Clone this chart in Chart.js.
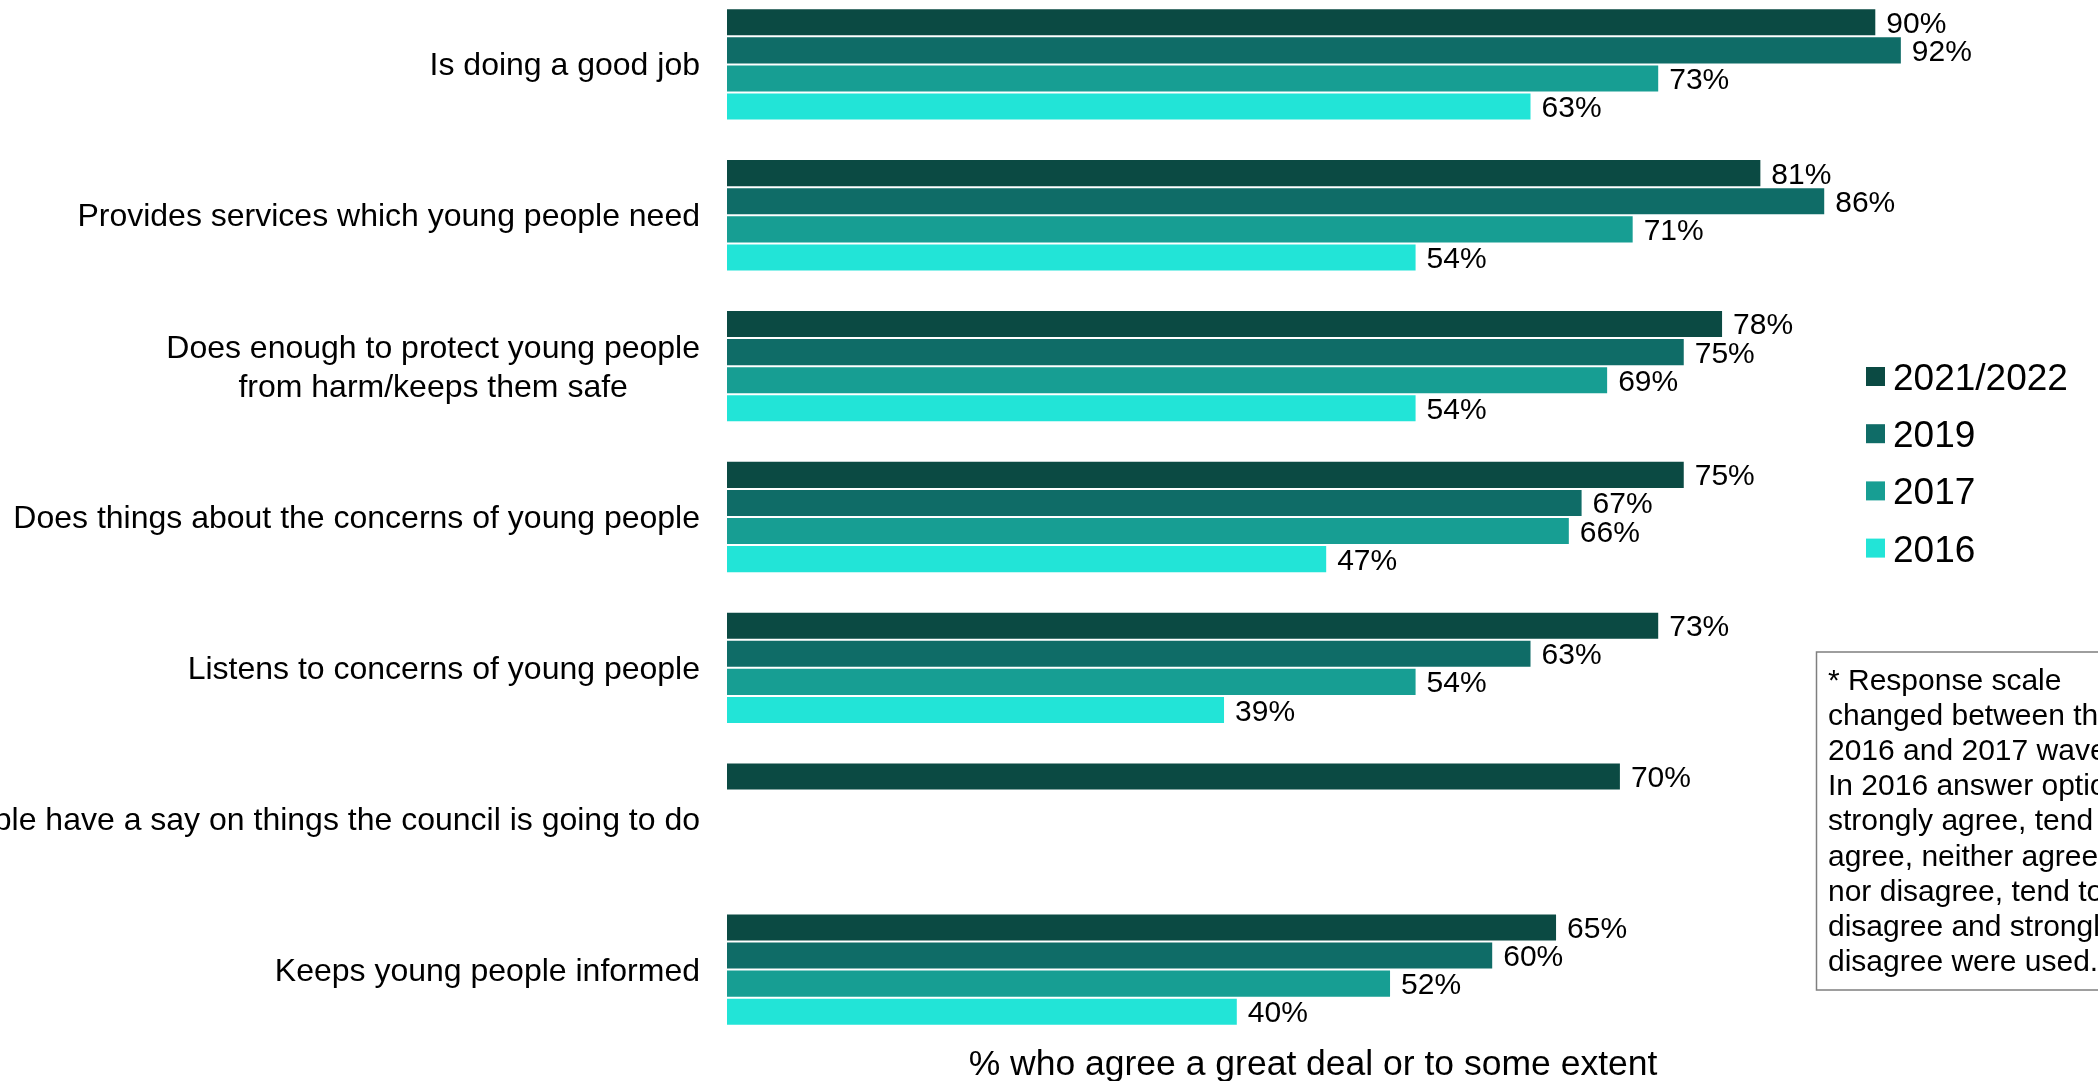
<!DOCTYPE html>
<html>
<head>
<meta charset="utf-8">
<script src="https://cdn.jsdelivr.net/npm/chart.js@4/dist/chart.umd.min.js"></script>
<style>
  html, body { margin: 0; padding: 0; background: #fff; overflow: hidden; }
  #wrap { position: relative; width: 2098px; height: 1081px; overflow: hidden; }
  #chart { position: absolute; left: 0; top: -11px; }
</style>
</head>
<body>
<div id="wrap"><canvas id="chart" width="2098" height="1092"></canvas></div>
<script>
// kategoriat (ylhäältä alas)
const categories = [
  ['Is doing a good job'],
  ['Provides services which young people need'],
  ['Does enough to protect young people', 'from harm/keeps them safe'],
  ['Does things about the concerns of young people'],
  ['Listens to concerns of young people'],
  ['Lets young people have a say on things the council is going to do'],
  ['Keeps young people informed']
];

const seriesNames = ['2021/2022', '2019', '2017', '2016'];
const values2022 = [90, 81, 78, 75, 73, 70, 65];
const values2019 = [92, 86, 75, 67, 63, null, 60];
const values2017 = [73, 71, 69, 66, 54, null, 52];
const values2016 = [63, 54, 54, 47, 39, null, 40];
const seriesColors = ['#0b4a43', '#0f6c67', '#179e93', '#22e4d7'];

const axisTitle = '% who agree a great deal or to some extent';
const noteLines = [
  '* Response scale',
  'changed between the',
  '2016 and 2017 waves.',
  'In 2016 answer options',
  'strongly agree, tend to',
  'agree, neither agree',
  'nor disagree, tend to',
  'disagree and strongly',
  'disagree were used.'
];

const FONT = '"Liberation Sans", Arial, sans-serif';
const OFF = 11; // canvas on siirretty 11px ylös

// Omat tekstit: kategoriat, arvot, selite, akselin otsikko ja huomautus
const textPlugin = {
  id: 'texts',
  afterDraw(chart) {
    const ctx = chart.ctx;
    const yScale = chart.scales.y;
    ctx.save();
    ctx.fillStyle = '#000';

    // kategoriat oikealle tasattuna, rivit keskitetty keskenään
    ctx.font = '32px ' + FONT;
    categories.forEach((lines, i) => {
      const cy = yScale.getPixelForValue(i);
      const widths = lines.map(l => ctx.measureText(l).width);
      const maxW = Math.max(...widths);
      const right = 700;
      const lh = 39;
      ctx.textAlign = 'center';
      ctx.textBaseline = 'alphabetic';
      lines.forEach((l, k) => {
        const y = cy + (k - (lines.length - 1) / 2) * lh + 11;
        ctx.fillText(l, right - maxW / 2, y);
      });
    });

    // arvot palkkien perään
    ctx.font = '30px ' + FONT;
    ctx.textAlign = 'left';
    chart.data.datasets.forEach((ds, di) => {
      const meta = chart.getDatasetMeta(di);
      meta.data.forEach((bar, i) => {
        const v = ds.data[i];
        if (v === null || v === undefined) return;
        ctx.fillText(v + '%', bar.x + 10, bar.y + 10.5);
      });
    });

    // selite
    ctx.font = '37px ' + FONT;
    seriesNames.forEach((name, i) => {
      const top = 367 + 57.2 * i + OFF;
      ctx.fillStyle = seriesColors[i];
      ctx.fillRect(1866, top, 19, 19);
      ctx.fillStyle = '#000';
      ctx.fillText(name, 1893, top + 23);
    });

    // akselin otsikko
    ctx.font = '35.5px ' + FONT;
    ctx.textAlign = 'center';
    ctx.fillText(axisTitle, 1313, 1075 + OFF);

    // huomautuslaatikko
    ctx.strokeStyle = '#7f7f7f';
    ctx.lineWidth = 1.5;
    ctx.strokeRect(1816.5, 652 + OFF, 400, 338);
    ctx.font = '30px ' + FONT;
    ctx.textAlign = 'left';
    noteLines.forEach((l, k) => {
      ctx.fillText(l, 1828, 689.5 + k * 35.2 + OFF);
    });

    ctx.restore();
  }
};

const allValues = [values2022, values2019, values2017, values2016];

new Chart(document.getElementById('chart').getContext('2d'), {
  type: 'bar',
  data: {
    labels: categories.map(c => c.join(' ')),
    datasets: allValues.map((vals, i) => ({
      label: seriesNames[i],
      data: vals,
      backgroundColor: seriesColors[i],
      borderColor: '#ffffff',
      borderWidth: 1,
      categoryPercentage: 0.745,
      barPercentage: 1
    }))
  },
  options: {
    indexAxis: 'y',
    responsive: false,
    animation: false,
    layout: { padding: { left: 727, right: 94, top: 0, bottom: 36 } },
    plugins: {
      legend: { display: false },
      tooltip: { enabled: false }
    },
    scales: {
      x: { min: 0, max: 100, display: false },
      y: { display: false, offset: true }
    }
  },
  plugins: [textPlugin]
});
</script>
</body>
</html>
